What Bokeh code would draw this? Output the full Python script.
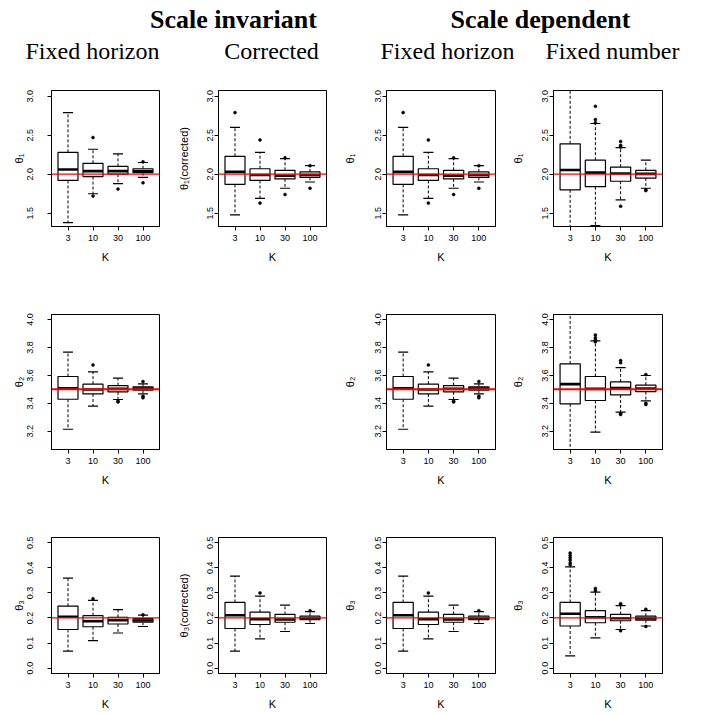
from bokeh.plotting import figure
from bokeh.layouts import column, row
from bokeh.models import Range1d, FixedTicker, Label, Span, Spacer, PrintfTickFormatter
from bokeh.embed import file_html
from bokeh.resources import INLINE

# ---------------- data ----------------
K_LABELS = ["3", "10", "30", "100"]
TRUE_THETA = [2.0, 3.5, 0.2]

# theta1, scale invariant, fixed horizon
t1_a_lo = [1.38, 1.75, 1.88, 1.96]
t1_a_q1 = [1.92, 1.97, 2.00, 2.02]
t1_a_med = [2.06, 2.04, 2.04, 2.04]
t1_a_q3 = [2.28, 2.14, 2.10, 2.07]
t1_a_hi = [2.79, 2.32, 2.26, 2.15]
t1_a_out = [[], [2.47, 1.72], [1.81], [2.16, 1.89]]

# theta1, corrected (= scale dependent, fixed horizon)
t1_b_lo = [1.48, 1.69, 1.82, 1.90]
t1_b_q1 = [1.87, 1.92, 1.94, 1.96]
t1_b_med = [2.03, 1.99, 1.98, 1.99]
t1_b_q3 = [2.23, 2.07, 2.05, 2.03]
t1_b_hi = [2.60, 2.28, 2.20, 2.11]
t1_b_out = [[2.79], [2.44, 1.63], [2.21, 1.74], [2.11, 1.82]]

# theta1, scale dependent, fixed number
t1_c_lo = [0.70, 1.34, 1.67, 1.82]
t1_c_q1 = [1.80, 1.84, 1.91, 1.95]
t1_c_med = [2.055, 2.02, 2.01, 2.005]
t1_c_q3 = [2.39, 2.18, 2.09, 2.05]
t1_c_hi = [3.40, 2.65, 2.34, 2.18]
t1_c_out = [[], [2.87, 2.70, 2.66], [2.42, 2.37, 2.35, 1.59], [1.80, 1.79]]

# theta2, fixed horizon
t2_a_lo = [3.214, 3.379, 3.427, 3.467]
t2_a_q1 = [3.429, 3.467, 3.482, 3.494]
t2_a_med = [3.508, 3.499, 3.503, 3.506]
t2_a_q3 = [3.592, 3.537, 3.527, 3.518]
t2_a_hi = [3.766, 3.625, 3.580, 3.539]
t2_a_out = [[], [3.675], [3.415, 3.41], [3.556, 3.451, 3.439]]

# theta2, fixed number
t2_c_lo = [2.90, 3.193, 3.336, 3.417]
t2_c_q1 = [3.396, 3.420, 3.460, 3.484]
t2_c_med = [3.537, 3.503, 3.510, 3.506]
t2_c_q3 = [3.682, 3.592, 3.553, 3.530]
t2_c_hi = [4.20, 3.847, 3.656, 3.599]
t2_c_out = [[], [3.89, 3.87, 3.854, 3.84], [3.706, 3.69, 3.327, 3.32], [3.606, 3.40, 3.391]]

# theta3, scale invariant, fixed horizon
t3_a_lo = [0.068, 0.110, 0.140, 0.166]
t3_a_q1 = [0.154, 0.165, 0.176, 0.183]
t3_a_med = [0.205, 0.187, 0.191, 0.190]
t3_a_q3 = [0.247, 0.209, 0.202, 0.197]
t3_a_hi = [0.359, 0.270, 0.233, 0.211]
t3_a_out = [[], [0.277], [], [0.213]]

# theta3, corrected (= scale dependent, fixed horizon)
t3_b_lo = [0.068, 0.117, 0.146, 0.178]
t3_b_q1 = [0.158, 0.174, 0.183, 0.193]
t3_b_med = [0.211, 0.195, 0.194, 0.198]
t3_b_q3 = [0.262, 0.223, 0.214, 0.207]
t3_b_hi = [0.367, 0.287, 0.251, 0.225]
t3_b_out = [[], [0.300], [], [0.229]]

# theta3, scale dependent, fixed number
t3_c_lo = [0.049, 0.121, 0.154, 0.168]
t3_c_q1 = [0.168, 0.181, 0.189, 0.191]
t3_c_med = [0.217, 0.203, 0.199, 0.198]
t3_c_q3 = [0.262, 0.229, 0.214, 0.207]
t3_c_hi = [0.404, 0.303, 0.249, 0.229]
t3_c_out = [[0.459, 0.449, 0.440, 0.431, 0.420, 0.412], [0.318, 0.309],
            [0.257, 0.253, 0.149], [0.235, 0.166]]

Y_RANGES = [(1.33, 3.073), (3.069, 4.036), (-0.0215, 0.521)]
Y_TICKS = [[1.5, 2.0, 2.5, 3.0], [3.2, 3.4, 3.6, 3.8, 4.0], [0.0, 0.1, 0.2, 0.3, 0.4, 0.5]]

TITLES_TOP = ["Scale invariant", "Scale dependent"]
TITLES_SUB = ["Fixed horizon", "Corrected", "Fixed horizon", "Fixed number"]

# ---------------- layout geometry ----------------
COL_W = [170, 166, 168, 207]
COL_LEFT = [51, 48, 50, 49]
COL_RIGHT = [11, 10, 9, 49]
ROW_H = [210, 222, 203]
ROW_TOP = [10, 24, 25]
ROW_BOTTOM = [64, 63, 42]
LBL_STANDOFF = [14, 1, 1, 1]
AXL_STANDOFF = [0, 15, 17, 16]
RED_W = [1.2, 2.0, 1.2]

SANS = "Liberation Sans"
SERIF = "Liberation Serif"


def panel(r, c, lo, q1, med, q3, hi, outs, ylabel):
    xs = list(range(1, len(K_LABELS) + 1))
    p = figure(width=COL_W[c], height=ROW_H[r], output_backend="svg",
               toolbar_location=None, tools="",
               x_range=Range1d(0.34, len(K_LABELS) + 0.66),
               y_range=Range1d(*Y_RANGES[r]),
               min_border_left=COL_LEFT[c], min_border_right=COL_RIGHT[c],
               min_border_top=ROW_TOP[r], min_border_bottom=ROW_BOTTOM[r])
    p.xgrid.visible = False
    p.ygrid.visible = False
    p.background_fill_color = "white"
    p.border_fill_color = "white"
    p.outline_line_color = "black"
    p.outline_line_width = 1
    p.outline_line_alpha = 1

    # whiskers
    p.segment(x0=xs, y0=q3, x1=xs, y1=hi, line_color="black", line_width=1, line_dash="3 2")
    p.segment(x0=xs, y0=q1, x1=xs, y1=lo, line_color="black", line_width=1, line_dash="3 2")
    # staples
    p.segment(x0=[x - 0.2 for x in xs], y0=hi, x1=[x + 0.2 for x in xs], y1=hi,
              line_color="black", line_width=1.2)
    p.segment(x0=[x - 0.2 for x in xs], y0=lo, x1=[x + 0.2 for x in xs], y1=lo,
              line_color="black", line_width=1.2)
    # boxes
    p.vbar(x=xs, width=0.8, bottom=q1, top=q3, fill_color="white",
           line_color="black", line_width=1.2)
    # medians
    p.segment(x0=[x - 0.4 for x in xs], y0=med, x1=[x + 0.4 for x in xs], y1=med,
              line_color="black", line_width=2.6)
    # outliers
    ox = [xs[i] for i, lst in enumerate(outs) for _ in lst]
    oy = [v for lst in outs for v in lst]
    if ox:
        p.scatter(x=ox, y=oy, size=3.0, marker="circle", fill_color="black",
                  line_color="black", line_width=0.5)

    p.add_layout(Span(location=TRUE_THETA[r], dimension="width",
                      line_color="red", line_width=RED_W[r]))

    # axes
    p.xaxis.ticker = FixedTicker(ticks=xs)
    p.xaxis.major_label_overrides = {x: K_LABELS[i] for i, x in enumerate(xs)}
    p.xaxis.axis_label = "K"
    p.yaxis.ticker = FixedTicker(ticks=Y_TICKS[r])
    p.yaxis.formatter = PrintfTickFormatter(format="%.1f")
    p.yaxis.major_label_orientation = "vertical"
    p.yaxis.axis_label = ylabel
    for ax in (p.xaxis, p.yaxis):
        ax.axis_line_color = "black"
        ax.major_tick_line_color = "black"
        ax.major_tick_in = 0
        ax.major_tick_out = 4
        ax.minor_tick_line_color = None
        ax.major_label_text_font = SANS
        ax.major_label_text_font_size = "9px"
        ax.major_label_text_color = "black"
        ax.axis_label_text_font = SANS
        ax.axis_label_text_font_size = "11px"
        ax.axis_label_text_font_style = "normal"
        ax.axis_label_text_color = "black"
    p.xaxis.major_label_standoff = 4
    p.xaxis.axis_label_standoff = 7
    p.yaxis.major_label_standoff = LBL_STANDOFF[c]
    p.yaxis.axis_label_standoff = AXL_STANDOFF[c]
    return p


# title strip
tf = figure(width=711, height=80, output_backend="svg", toolbar_location=None, tools="",
            x_range=Range1d(0, 1), y_range=Range1d(0, 1),
            min_border=0, min_border_left=0, min_border_right=0,
            min_border_top=0, min_border_bottom=0)
tf.axis.visible = False
tf.grid.visible = False
tf.outline_line_color = None
tf.background_fill_color = "white"
tf.border_fill_color = "white"
top_x = [233, 540]
sub_x = [92, 271, 447, 612]
for t, x in zip(TITLES_TOP, top_x):
    tf.add_layout(Label(x=x, y=61, x_units="screen", y_units="screen", text=t,
                        text_align="center", text_baseline="alphabetic",
                        text_font=SERIF, text_font_style="bold",
                        text_font_size="26px", text_color="black"))
for t, x in zip(TITLES_SUB, sub_x):
    tf.add_layout(Label(x=x, y=30, x_units="screen", y_units="screen", text=t,
                        text_align="center", text_baseline="alphabetic",
                        text_font=SERIF, text_font_size="24px", text_color="black"))

r1 = row(
    panel(0, 0, t1_a_lo, t1_a_q1, t1_a_med, t1_a_q3, t1_a_hi, t1_a_out, "θ₁"),
    panel(0, 1, t1_b_lo, t1_b_q1, t1_b_med, t1_b_q3, t1_b_hi, t1_b_out, "θ₁(corrected)"),
    panel(0, 2, t1_b_lo, t1_b_q1, t1_b_med, t1_b_q3, t1_b_hi, t1_b_out, "θ₁"),
    panel(0, 3, t1_c_lo, t1_c_q1, t1_c_med, t1_c_q3, t1_c_hi, t1_c_out, "θ₁"),
)
r2 = row(
    panel(1, 0, t2_a_lo, t2_a_q1, t2_a_med, t2_a_q3, t2_a_hi, t2_a_out, "θ₂"),
    Spacer(width=COL_W[1], height=ROW_H[1]),
    panel(1, 2, t2_a_lo, t2_a_q1, t2_a_med, t2_a_q3, t2_a_hi, t2_a_out, "θ₂"),
    panel(1, 3, t2_c_lo, t2_c_q1, t2_c_med, t2_c_q3, t2_c_hi, t2_c_out, "θ₂"),
)
r3 = row(
    panel(2, 0, t3_a_lo, t3_a_q1, t3_a_med, t3_a_q3, t3_a_hi, t3_a_out, "θ₃"),
    panel(2, 1, t3_b_lo, t3_b_q1, t3_b_med, t3_b_q3, t3_b_hi, t3_b_out, "θ₃(corrected)"),
    panel(2, 2, t3_b_lo, t3_b_q1, t3_b_med, t3_b_q3, t3_b_hi, t3_b_out, "θ₃"),
    panel(2, 3, t3_c_lo, t3_c_q1, t3_c_med, t3_c_q3, t3_c_hi, t3_c_out, "θ₃"),
)

layout = column(tf, r1, r2, r3)
open("out.html", "w").write(file_html(layout, INLINE))
